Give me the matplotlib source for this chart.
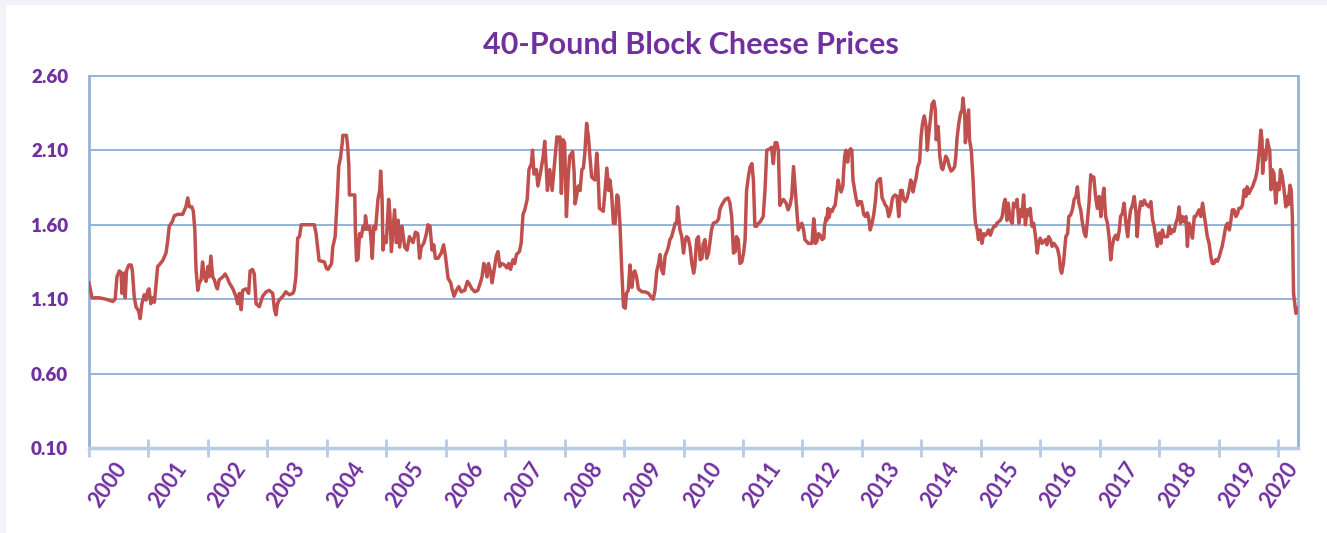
import matplotlib
matplotlib.use("Agg")
import matplotlib.pyplot as plt
from matplotlib.patches import Rectangle
from matplotlib.transforms import ScaledTranslation

# ---------------- data (decimal year, $/lb) ----------------
dates_a = [2000.00, 2000.05, 2000.17, 2000.29, 2000.40, 2000.44, 2000.47, 2000.51, 2000.54, 2000.555,
           2000.59, 2000.61, 2000.63, 2000.67, 2000.71, 2000.73, 2000.76, 2000.79, 2000.835, 2000.86,
           2000.89, 2000.93, 2000.96, 2000.99, 2001.01, 2001.04, 2001.07, 2001.10, 2001.13, 2001.155,
           2001.18, 2001.24, 2001.295, 2001.32, 2001.35, 2001.40, 2001.435, 2001.49, 2001.575, 2001.63,
           2001.66, 2001.69, 2001.73, 2001.755, 2001.78, 2001.80, 2001.83, 2001.855, 2001.885, 2001.91,
           2001.94, 2001.97, 2002.00, 2002.02, 2002.05, 2002.08, 2002.11, 2002.14, 2002.16, 2002.19,
           2002.25, 2002.29, 2002.33, 2002.36, 2002.42, 2002.47, 2002.50, 2002.53, 2002.56, 2002.585,
           2002.64, 2002.685, 2002.71, 2002.75, 2002.78, 2002.81, 2002.865, 2002.92, 2002.98, 2003.03,
           2003.09, 2003.12, 2003.145, 2003.17, 2003.20, 2003.26, 2003.31, 2003.37, 2003.43, 2003.45,
           2003.48, 2003.51, 2003.54, 2003.57, 2003.79, 2003.82, 2003.85, 2003.87, 2003.96, 2003.99]
prices_a = [1.21, 1.11, 1.11, 1.10, 1.085, 1.10, 1.25, 1.29, 1.28, 1.14,
            1.275, 1.11, 1.29, 1.33, 1.33, 1.29, 1.12, 1.05, 1.02, 0.97,
            1.07, 1.13, 1.095, 1.16, 1.17, 1.07, 1.11, 1.08, 1.21, 1.32,
            1.33, 1.36, 1.41, 1.48, 1.59, 1.62, 1.66, 1.67, 1.67, 1.72,
            1.78, 1.72, 1.72, 1.69, 1.565, 1.30, 1.16, 1.21, 1.23, 1.35,
            1.25, 1.22, 1.32, 1.25, 1.39, 1.25, 1.23, 1.185, 1.17, 1.23,
            1.25, 1.27, 1.24, 1.21, 1.17, 1.12, 1.07, 1.14, 1.03, 1.16,
            1.17, 1.14, 1.29, 1.30, 1.27, 1.07, 1.05, 1.12, 1.15, 1.16,
            1.14, 1.03, 0.995, 1.07, 1.095, 1.12, 1.15, 1.13, 1.14, 1.16,
            1.25, 1.51, 1.52, 1.60, 1.60, 1.54, 1.43, 1.36, 1.35, 1.31]

dates_b = [2004.02, 2004.08, 2004.10, 2004.14, 2004.18, 2004.20, 2004.23, 2004.26, 2004.27, 2004.33,
           2004.35, 2004.37, 2004.38, 2004.47, 2004.48, 2004.50, 2004.525, 2004.55, 2004.58, 2004.61,
           2004.64, 2004.65, 2004.68, 2004.72, 2004.74, 2004.765, 2004.79, 2004.82, 2004.86, 2004.89,
           2004.905, 2004.93, 2004.945, 2004.97, 2005.00, 2005.04, 2005.06, 2005.085, 2005.14, 2005.17,
           2005.20, 2005.225, 2005.265, 2005.31, 2005.35, 2005.39, 2005.45, 2005.49, 2005.53, 2005.56,
           2005.59, 2005.635, 2005.675, 2005.70, 2005.735, 2005.77, 2005.80, 2005.825, 2005.87, 2005.925,
           2005.965, 2005.995, 2006.04, 2006.085, 2006.105, 2006.14, 2006.18, 2006.22, 2006.26, 2006.32,
           2006.365, 2006.40, 2006.44, 2006.49, 2006.54, 2006.59, 2006.61, 2006.64, 2006.665, 2006.695,
           2006.72, 2006.76, 2006.78, 2006.81, 2006.85, 2006.88, 2006.91, 2006.94, 2006.99, 2007.03,
           2007.06, 2007.09, 2007.13, 2007.16, 2007.19, 2007.24, 2007.27, 2007.30, 2007.33, 2007.37,
           2007.40, 2007.44, 2007.46, 2007.485, 2007.525, 2007.55, 2007.59, 2007.64, 2007.665, 2007.69,
           2007.71, 2007.75, 2007.79, 2007.83, 2007.87, 2007.89, 2007.92, 2007.945, 2007.975, 2008.00,
           2008.03, 2008.06, 2008.085]
prices_b = [1.30, 1.34, 1.45, 1.52, 1.81, 1.99, 2.05, 2.15, 2.20, 2.20,
            2.13, 2.00, 1.80, 1.80, 1.57, 1.36, 1.37, 1.54, 1.52, 1.59,
            1.57, 1.66, 1.57, 1.59, 1.52, 1.375, 1.59, 1.57, 1.77, 1.83,
            1.96, 1.77, 1.43, 1.52, 1.48, 1.77, 1.68, 1.42, 1.70, 1.48,
            1.63, 1.45, 1.59, 1.45, 1.43, 1.52, 1.48, 1.55, 1.54, 1.375,
            1.45, 1.48, 1.54, 1.60, 1.59, 1.43, 1.465, 1.375, 1.375, 1.41,
            1.465, 1.39, 1.24, 1.21, 1.17, 1.12, 1.16, 1.185, 1.15, 1.16,
            1.22, 1.20, 1.17, 1.15, 1.16, 1.22, 1.25, 1.34, 1.32, 1.25,
            1.34, 1.275, 1.21, 1.285, 1.39, 1.42, 1.32, 1.34, 1.33, 1.31,
            1.34, 1.30, 1.365, 1.34, 1.40, 1.42, 1.48, 1.67, 1.70, 1.77,
            1.97, 2.01, 2.10, 1.94, 1.97, 1.86, 1.94, 2.06, 2.16, 1.99,
            1.83, 1.97, 1.83, 2.01, 2.19, 2.16, 2.19, 1.81, 2.17, 2.15,
            1.655, 1.92, 2.06]

dates_c = [2008.135, 2008.16, 2008.175, 2008.20, 2008.23, 2008.26, 2008.29, 2008.315, 2008.34, 2008.37,
           2008.40, 2008.43, 2008.455, 2008.48, 2008.51, 2008.54, 2008.56, 2008.585, 2008.62, 2008.65,
           2008.68, 2008.71, 2008.74, 2008.76, 2008.79, 2008.82, 2008.85, 2008.88, 2008.90, 2008.93,
           2008.96, 2008.99, 2009.02, 2009.04, 2009.07, 2009.10, 2009.13, 2009.16, 2009.18, 2009.21,
           2009.24, 2009.30, 2009.35, 2009.41, 2009.465, 2009.49, 2009.52, 2009.55, 2009.58, 2009.605,
           2009.63, 2009.66, 2009.69, 2009.72, 2009.745, 2009.77, 2009.80, 2009.83, 2009.86, 2009.885,
           2009.90, 2009.91, 2009.94, 2009.97, 2010.00, 2010.025, 2010.05, 2010.08, 2010.11, 2010.14,
           2010.17, 2010.19, 2010.22, 2010.25, 2010.28, 2010.31, 2010.33, 2010.36, 2010.39, 2010.42,
           2010.45, 2010.47, 2010.50, 2010.56, 2010.59, 2010.61, 2010.64, 2010.70, 2010.75, 2010.78,
           2010.81, 2010.84, 2010.87, 2010.89, 2010.92, 2010.95, 2010.98, 2011.01, 2011.035, 2011.06,
           2011.09, 2011.12, 2011.15, 2011.175, 2011.20, 2011.23, 2011.26, 2011.29, 2011.34, 2011.37,
           2011.40, 2011.455, 2011.48, 2011.51, 2011.54, 2011.57, 2011.595, 2011.62, 2011.65, 2011.68,
           2011.725, 2011.76, 2011.79, 2011.82, 2011.85, 2011.88, 2011.90, 2011.93, 2011.96, 2011.99,
           2012.02, 2012.04, 2012.10, 2012.16]
prices_c = [2.09, 1.95, 1.74, 1.79, 1.86, 1.83, 1.97, 1.98, 2.08, 2.28,
            2.19, 2.035, 1.92, 1.91, 1.90, 2.08, 1.97, 1.71, 1.70, 1.69,
            1.83, 1.98, 1.83, 1.90, 1.81, 1.61, 1.61, 1.80, 1.79, 1.61,
            1.30, 1.05, 1.04, 1.14, 1.16, 1.33, 1.18, 1.275, 1.29, 1.25,
            1.17, 1.15, 1.15, 1.14, 1.11, 1.10, 1.16, 1.29, 1.34, 1.40,
            1.30, 1.27, 1.39, 1.42, 1.45, 1.50, 1.52, 1.565, 1.61, 1.61,
            1.72, 1.68, 1.565, 1.52, 1.41, 1.49, 1.52, 1.51, 1.45, 1.34,
            1.275, 1.32, 1.50, 1.52, 1.365, 1.375, 1.47, 1.50, 1.375, 1.41,
            1.50, 1.565, 1.61, 1.62, 1.64, 1.70, 1.73, 1.77, 1.78, 1.745,
            1.655, 1.41, 1.42, 1.52, 1.50, 1.34, 1.35, 1.41, 1.50, 1.83,
            1.92, 1.99, 2.01, 1.90, 1.59, 1.59, 1.61, 1.62, 1.655, 1.83,
            2.10, 2.11, 2.12, 2.01, 2.15, 2.15, 2.10, 1.73, 1.755, 1.77,
            1.745, 1.70, 1.73, 1.79, 1.99, 1.83, 1.72, 1.565, 1.59, 1.61,
            1.565, 1.50, 1.475, 1.475]

dates_d = [2012.19, 2012.21, 2012.22, 2012.245, 2012.27, 2012.30, 2012.33, 2012.36, 2012.37, 2012.40,
           2012.41, 2012.43, 2012.45, 2012.47, 2012.50, 2012.53, 2012.55, 2012.58, 2012.60, 2012.62,
           2012.65, 2012.68, 2012.69, 2012.71, 2012.73, 2012.76, 2012.78, 2012.81, 2012.83, 2012.85,
           2012.88, 2012.90, 2012.93, 2012.96, 2012.99, 2013.01, 2013.03, 2013.06, 2013.09, 2013.11,
           2013.14, 2013.17, 2013.20, 2013.23, 2013.25, 2013.28, 2013.31, 2013.34, 2013.37, 2013.395,
           2013.42, 2013.45, 2013.48, 2013.51, 2013.53, 2013.56, 2013.59, 2013.62, 2013.65, 2013.68,
           2013.70, 2013.73, 2013.76, 2013.79, 2013.82, 2013.84, 2013.86, 2013.89, 2013.91, 2013.94,
           2013.97, 2013.995, 2014.02, 2014.05, 2014.08, 2014.10, 2014.12, 2014.15, 2014.18, 2014.21,
           2014.235, 2014.25, 2014.28, 2014.29, 2014.31, 2014.34, 2014.36, 2014.39, 2014.41, 2014.44,
           2014.47, 2014.50, 2014.53, 2014.56, 2014.58, 2014.60, 2014.63, 2014.66, 2014.685, 2014.70,
           2014.73, 2014.74, 2014.77, 2014.795, 2014.81, 2014.84, 2014.87, 2014.89, 2014.91, 2014.94,
           2014.96, 2014.99, 2015.02, 2015.05, 2015.08, 2015.10, 2015.13, 2015.16, 2015.19, 2015.22,
           2015.25, 2015.27, 2015.30, 2015.33, 2015.36, 2015.39, 2015.41, 2015.44, 2015.46, 2015.48,
           2015.51, 2015.53, 2015.55, 2015.58, 2015.61, 2015.64, 2015.67, 2015.69, 2015.72, 2015.75,
           2015.78, 2015.81, 2015.83, 2015.86, 2015.89, 2015.92, 2015.95, 2015.97, 2016.00, 2016.03,
           2016.06, 2016.09, 2016.11, 2016.14, 2016.17, 2016.20]
prices_d = [1.64, 1.56, 1.475, 1.49, 1.54, 1.53, 1.50, 1.51, 1.59, 1.65,
            1.63, 1.71, 1.65, 1.70, 1.69, 1.72, 1.73, 1.83, 1.90, 1.86,
            1.82, 1.86, 1.94, 2.06, 2.10, 2.02, 2.09, 2.11, 2.10, 1.90,
            1.83, 1.78, 1.73, 1.755, 1.755, 1.72, 1.67, 1.655, 1.68, 1.655,
            1.565, 1.61, 1.67, 1.77, 1.88, 1.90, 1.91, 1.78, 1.755, 1.73,
            1.72, 1.655, 1.69, 1.77, 1.79, 1.80, 1.79, 1.655, 1.83, 1.83,
            1.77, 1.755, 1.78, 1.83, 1.90, 1.88, 1.82, 1.88, 1.91, 1.99,
            2.02, 2.19, 2.28, 2.33, 2.26, 2.10, 2.19, 2.30, 2.41, 2.43,
            2.37, 2.17, 2.26, 2.21, 2.06, 1.98, 1.97, 2.02, 2.06, 2.04,
            1.99, 1.96, 1.97, 1.99, 2.06, 2.18, 2.28, 2.35, 2.37, 2.45,
            2.33, 2.15, 2.27, 2.37, 2.17, 2.10, 1.90, 1.72, 1.61, 1.565,
            1.50, 1.565, 1.475, 1.54, 1.53, 1.54, 1.565, 1.53, 1.565, 1.59,
            1.59, 1.61, 1.62, 1.63, 1.655, 1.745, 1.77, 1.63, 1.745, 1.68,
            1.62, 1.61, 1.745, 1.72, 1.77, 1.61, 1.70, 1.655, 1.80, 1.60,
            1.70, 1.665, 1.71, 1.59, 1.61, 1.52, 1.41, 1.475, 1.51, 1.475,
            1.49, 1.50, 1.465, 1.52, 1.50, 1.455]

dates_e = [2016.23, 2016.29, 2016.32, 2016.34, 2016.36, 2016.39, 2016.43, 2016.46, 2016.48, 2016.51,
           2016.54, 2016.57, 2016.60, 2016.625, 2016.65, 2016.68, 2016.71, 2016.74, 2016.765, 2016.79,
           2016.82, 2016.85, 2016.88, 2016.90, 2016.93, 2016.96, 2016.99, 2017.02, 2017.045, 2017.07,
           2017.10, 2017.13, 2017.16, 2017.185, 2017.21, 2017.24, 2017.27, 2017.30, 2017.33, 2017.35,
           2017.38, 2017.41, 2017.44, 2017.47, 2017.49, 2017.52, 2017.55, 2017.58, 2017.61, 2017.63,
           2017.66, 2017.69, 2017.72, 2017.75, 2017.77, 2017.80, 2017.83, 2017.86, 2017.89, 2017.915,
           2017.94, 2017.97, 2018.00, 2018.03, 2018.055, 2018.08, 2018.11, 2018.14, 2018.17, 2018.195,
           2018.22, 2018.25, 2018.28, 2018.31, 2018.335, 2018.36, 2018.39, 2018.42, 2018.45, 2018.475,
           2018.50, 2018.53, 2018.56, 2018.59, 2018.615, 2018.64, 2018.67, 2018.70, 2018.73, 2018.755,
           2018.78, 2018.81, 2018.84, 2018.87, 2018.895, 2018.92, 2018.95, 2018.98, 2019.01, 2019.04,
           2019.06, 2019.09, 2019.12, 2019.15, 2019.18, 2019.20, 2019.23, 2019.26, 2019.29, 2019.32,
           2019.34, 2019.37, 2019.40, 2019.43, 2019.46, 2019.48, 2019.51, 2019.54, 2019.57, 2019.60,
           2019.62, 2019.65, 2019.68, 2019.71, 2019.73, 2019.74, 2019.765, 2019.79, 2019.82, 2019.84,
           2019.86, 2019.88, 2019.90, 2019.93, 2019.96, 2019.99, 2020.02, 2020.04, 2020.07, 2020.10,
           2020.13, 2020.16, 2020.17, 2020.20, 2020.22, 2020.24, 2020.26, 2020.28, 2020.30, 2020.325]
prices_e = [1.475, 1.44, 1.385, 1.30, 1.275, 1.34, 1.52, 1.54, 1.655, 1.665,
            1.70, 1.77, 1.79, 1.855, 1.745, 1.70, 1.61, 1.545, 1.52, 1.61,
            1.745, 1.935, 1.91, 1.92, 1.79, 1.71, 1.79, 1.655, 1.77, 1.845,
            1.655, 1.61, 1.51, 1.365, 1.455, 1.51, 1.53, 1.50, 1.565, 1.655,
            1.675, 1.745, 1.61, 1.52, 1.61, 1.70, 1.73, 1.79, 1.68, 1.52,
            1.68, 1.755, 1.73, 1.765, 1.745, 1.73, 1.72, 1.755, 1.63, 1.59,
            1.52, 1.455, 1.545, 1.475, 1.565, 1.52, 1.52, 1.52, 1.59, 1.54,
            1.565, 1.555, 1.61, 1.645, 1.72, 1.61, 1.655, 1.62, 1.655, 1.455,
            1.61, 1.565, 1.51, 1.655, 1.655, 1.675, 1.70, 1.655, 1.745, 1.675,
            1.61, 1.52, 1.475, 1.385, 1.34, 1.34, 1.365, 1.355, 1.385, 1.43,
            1.455, 1.52, 1.59, 1.61, 1.565, 1.61, 1.70, 1.70, 1.655, 1.675,
            1.71, 1.71, 1.73, 1.835, 1.79, 1.855, 1.81, 1.835, 1.855, 1.89,
            1.91, 1.97, 2.08, 2.235, 2.17, 1.945, 2.10, 2.035, 2.17, 2.125,
            2.10, 1.835, 1.97, 1.945, 1.745, 1.88, 1.835, 1.97, 1.925, 1.835,
            1.72, 1.79, 1.735, 1.865, 1.835, 1.655, 1.14, 1.07, 1.005, 1.04]

dates = dates_a + dates_b + dates_c + dates_d + dates_e
prices = prices_a + prices_b + prices_c + prices_d + prices_e

year_ticks = list(range(2000, 2021))
year_labels = [str(y) for y in year_ticks]
y_ticks = [0.10, 0.60, 1.10, 1.60, 2.10, 2.60]
title = "40-Pound Block Cheese Prices"

# ---------------- style ----------------
PURPLE = "#7030A0"
LINE = "#C0504D"
GRID = "#95B3D7"
XAXIS = "#B7CBE4"
W, H = 1327, 533

fig = plt.figure(figsize=(W / 100, H / 100), dpi=100)
fig.patch.set_facecolor("#F2F3F8")
fig.add_artist(Rectangle((6 / W, 0), 1, 1 - 5 / H, transform=fig.transFigure,
                         facecolor="white", edgecolor="none", zorder=0))

left, right, top, bottom = 89, 1297.7, 75.7, 448.3
ax = fig.add_axes([left / W, 1 - bottom / H, (right - left) / W, (bottom - top) / H])
ax.set_facecolor("white")

ax.plot(dates, prices, color=LINE, lw=2.5, solid_joinstyle="round", zorder=3)

ax.set_xlim(2000, 2020.33)
ax.set_ylim(0.10, 2.60)
ax.set_yticks(y_ticks)
ax.set_yticklabels([f"{v:.2f}" for v in y_ticks])
ax.yaxis.grid(True, color=GRID, lw=1.4)
ax.set_axisbelow(True)

for s in ("left", "right", "top"):
    ax.spines[s].set_color(GRID)
ax.spines["left"].set_linewidth(2)
ax.spines["right"].set_linewidth(2)
ax.spines["top"].set_linewidth(1.4)
ax.spines["bottom"].set_color(XAXIS)
ax.spines["bottom"].set_linewidth(2.5)

ax.tick_params(axis="y", length=0, pad=15, labelcolor=PURPLE, labelsize=13.5)
for lab in ax.get_yticklabels():
    lab.set_fontfamily("Lato")
    lab.set_fontweight("heavy")

ax.set_xticks(year_ticks)
ax.set_xticklabels(year_labels)
ax.tick_params(axis="x", direction="inout", length=13, width=2, color=XAXIS,
               pad=1, labelcolor=PURPLE, labelsize=15.5)
for lab in ax.get_xticklabels():
    lab.set_fontfamily("Lato")
    lab.set_fontweight("bold")
    lab.set_rotation(55)
    lab.set_ha("right")
    lab.set_va("top")
    dx = 0.24 if lab.get_text() == "2020" else 0.42
    lab.set_transform(lab.get_transform() + ScaledTranslation(dx, 0, fig.dpi_scale_trans))

fig.text(691 / W, 1 - 45 / H, title, ha="center", va="center", color=PURPLE,
         fontsize=22, fontweight="bold", family="Lato")

fig.savefig("out.png", dpi=100, facecolor=fig.get_facecolor())
